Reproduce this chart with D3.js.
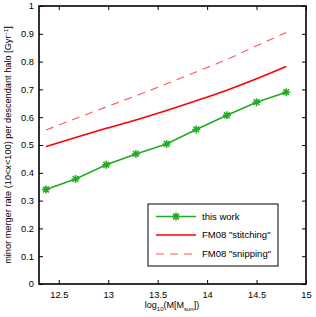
<!DOCTYPE html>
<html>
<head>
<meta charset="utf-8">
<script src="https://cdn.jsdelivr.net/npm/d3@7"></script>
<style>
  body { margin: 0; background: #fff; }
  svg text { font-family: "Liberation Sans", Arial, sans-serif; }
</style>
</head>
<body>
<div id="chart"></div>
<script>
'use strict'

// data
const massX = [12.37, 12.67, 12.98, 13.28, 13.59, 13.89, 14.2, 14.5, 14.8]
const thisWork = [0.340, 0.378, 0.429, 0.468, 0.504, 0.556, 0.607, 0.654, 0.690]
const stitching = [0.494, 0.527, 0.560, 0.590, 0.624, 0.659, 0.697, 0.738, 0.782]
const snipping = [0.554, 0.595, 0.637, 0.677, 0.720, 0.763, 0.808, 0.857, 0.905]
const xTicks = [12.5, 13, 13.5, 14, 14.5, 15]
const yTicks = [0, 0.1, 0.2, 0.3, 0.4, 0.5, 0.6, 0.7, 0.8, 0.9, 1]
const legendNames = ['this work', 'FM08 "stitching"', 'FM08 "snipping"']

const width = 316,
  height = 317,
  pLeft = 39, pRight = 306, pTop = 6, pBottom = 284

const green = '#22aa22', red = '#ff0000', pink = '#ff5555'

let svg = d3.select('#chart')
  .append('svg')
  .attr('width', width)
  .attr('height', height)

const xScale = d3.scaleLinear().domain([12.3, 15]).range([pLeft, pRight])
const yScale = d3.scaleLinear().domain([0, 1]).range([pBottom, pTop])

// axes, MATLAB style ticks inside on all sides
const axisFont = g => {
  g.selectAll('text').style('font-size', '9.3px').attr('fill', '#000')
  g.select('.domain').remove()
  g.selectAll('line').attr('stroke', '#000').attr('stroke-width', 1)
}
svg.append('g')
  .attr('transform', `translate(0,${pBottom})`)
  .call(d3.axisBottom(xScale).tickValues(xTicks).tickSizeInner(-4).tickSizeOuter(0).tickPadding(7.5).tickFormat(d3.format('')))
  .call(axisFont)
svg.append('g')
  .attr('transform', `translate(0,${pTop})`)
  .call(d3.axisTop(xScale).tickValues(xTicks).tickSizeInner(-4).tickSizeOuter(0).tickFormat(''))
  .call(axisFont)
svg.append('g')
  .attr('transform', `translate(${pLeft},0)`)
  .call(d3.axisLeft(yScale).tickValues(yTicks).tickSizeInner(-4).tickSizeOuter(0).tickPadding(5).tickFormat(d3.format('')))
  .call(axisFont)
svg.append('g')
  .attr('transform', `translate(${pRight},0)`)
  .call(d3.axisRight(yScale).tickValues(yTicks).tickSizeInner(-4).tickSizeOuter(0).tickFormat(''))
  .call(axisFont)

svg.append('rect')
  .attr('x', pLeft).attr('y', pTop)
  .attr('width', pRight - pLeft).attr('height', pBottom - pTop)
  .attr('fill', 'none').attr('stroke', '#000').attr('stroke-width', 1.6)

// lines
let line = (vals) => d3.line()
  .x((d, i) => xScale(massX[i]))
  .y(d => yScale(d))
  .curve(d3.curveMonotoneX)(vals)

svg.append('path').attr('d', line(snipping))
  .attr('fill', 'none').attr('stroke', pink).attr('stroke-width', 1.1)
  .attr('stroke-dasharray', '8,6')
svg.append('path').attr('d', line(stitching))
  .attr('fill', 'none').attr('stroke', red).attr('stroke-width', 1.6)
svg.append('path').attr('d', d3.line().x((d, i) => xScale(massX[i])).y(d => yScale(d))(thisWork))
  .attr('fill', 'none').attr('stroke', green).attr('stroke-width', 1.6)

// asterisk marker
let star = (g, cx, cy) => {
  const r = 4, s = r * 0.72
  g.append('path')
    .attr('d', `M${cx - r},${cy}L${cx + r},${cy}M${cx},${cy - r}L${cx},${cy + r}` +
      `M${cx - s},${cy - s}L${cx + s},${cy + s}M${cx - s},${cy + s}L${cx + s},${cy - s}`)
    .attr('stroke', green).attr('stroke-width', 1.5).attr('fill', 'none')
}
let marks = svg.append('g')
thisWork.forEach((d, i) => star(marks, xScale(massX[i]), yScale(d)))

// legend
let leg = svg.append('g')
leg.append('rect')
  .attr('x', 148).attr('y', 204).attr('width', 130).attr('height', 62)
  .attr('fill', '#fff').attr('stroke', '#000').attr('stroke-width', 1)
const legY = [216.5, 235, 254]
const legStyles = [
  { c: green, w: 1.6, dash: null },
  { c: red, w: 1.6, dash: null },
  { c: pink, w: 1.1, dash: '8,6' }
]
legendNames.forEach((name, i) => {
  leg.append('line')
    .attr('x1', 156).attr('x2', 196).attr('y1', legY[i]).attr('y2', legY[i])
    .attr('stroke', legStyles[i].c).attr('stroke-width', legStyles[i].w)
    .attr('stroke-dasharray', legStyles[i].dash)
  leg.append('text')
    .attr('x', 202).attr('y', legY[i]).attr('dy', '0.35em')
    .style('font-size', '9.5px')
    .text(name)
})
star(leg, 176, legY[0])

// axis labels
let yl = svg.append('text')
  .attr('transform', `translate(11,${(pTop + pBottom) / 2}) rotate(-90)`)
  .attr('text-anchor', 'middle')
  .style('font-size', '9.2px')
yl.append('tspan').text('minor merger rate (10<x<100) per descendant halo [Gyr')
yl.append('tspan').attr('dy', -3.5).style('font-size', '6px').text('−1')
yl.append('tspan').attr('dy', 3.5).text(']')

let xl = svg.append('text')
  .attr('x', 172).attr('y', 308)
  .attr('text-anchor', 'middle')
  .style('font-size', '9px')
xl.append('tspan').text('log')
xl.append('tspan').attr('dy', 2.5).style('font-size', '6px').text('10')
xl.append('tspan').attr('dy', -2.5).text('(M[M')
xl.append('tspan').attr('dy', 2.5).style('font-size', '6px').text('sun')
xl.append('tspan').attr('dy', -2.5).text('])')
</script>
</body>
</html>
